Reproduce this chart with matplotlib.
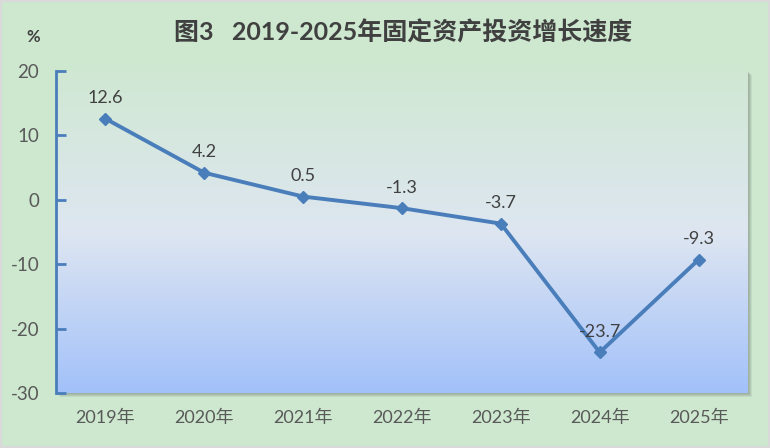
import matplotlib.pyplot as plt
import numpy as np
from matplotlib.colors import LinearSegmentedColormap
from matplotlib.patches import Rectangle

years = ['2019年', '2020年', '2021年', '2022年', '2023年', '2024年', '2025年']
growth = [12.6, 4.2, 0.5, -1.3, -3.7, -23.7, -9.3]
yticks = [-30, -20, -10, 0, 10, 20]

plt.rcParams['font.family'] = ['Lato', 'Noto Sans CJK SC', 'DejaVu Sans']
plt.rcParams['axes.unicode_minus'] = False

fig = plt.figure(figsize=(7.7, 4.48), dpi=100, facecolor='#cde8cf')
ax = fig.add_axes([0.0727, 0.1228, 0.8987, 0.7187])
ax.set_zorder(2)

# soft shadow behind the plot area (a few stacked rectangles)
for k, a in [(1, 0.35), (2, 0.3), (3, 0.25), (4, 0.2)]:
    fig.patches.append(Rectangle((0.0727 + k / 770, 0.1228 - k / 448), 0.8987, 0.7187,
                                 transform=fig.transFigure, facecolor='#8f9f90',
                                 edgecolor='none', alpha=a, zorder=-1))

# thin grey frame round the whole picture
fig.patches.append(Rectangle((0, 0), 1, 1, transform=fig.transFigure, facecolor='none',
                             edgecolor='#d9d9d9', lw=3, zorder=5))

# gradient fill
cmap = LinearSegmentedColormap.from_list('bg', [(0, '#d0e8d3'), (0.5, '#dee6f1'), (1, '#a2c1fa')])
grad = np.linspace(0, 1, 256).reshape(-1, 1)
ax.imshow(grad, cmap=cmap, aspect='auto', extent=(-0.5, 6.5, -30, 20),
          origin='upper', zorder=0)

x = np.arange(len(years))
ax.plot(x, growth, color='#4a7ebb', lw=2.8, marker='D', ms=6, zorder=3)
for xi, v in zip(x, growth):
    ax.annotate(f'{v:.1f}', (xi, v), xytext=(0, 9), textcoords='offset points',
                ha='center', va='bottom', fontsize=13, color='#404040', zorder=4)

ax.set_xlim(-0.5, 6.5)
ax.set_ylim(-30, 20)
ax.set_yticks(yticks)
ax.set_xticks(x)
ax.set_xticklabels(years)
for s in ['top', 'right', 'bottom']:
    ax.spines[s].set_visible(False)
ax.spines['left'].set_color('#4a7ebb')
ax.spines['left'].set_linewidth(2)
ax.tick_params(axis='y', direction='in', length=7, width=2, color='#4a7ebb',
               labelsize=13.5, labelcolor='#595959', pad=12)
ax.tick_params(axis='x', length=0, labelsize=13, labelcolor='#595959', pad=12)

fig.text(0.043, 0.918, '%', ha='center', va='center', fontsize=12, color='#404040', fontweight='bold')
fig.text(0.523, 0.928, '图3   2019-2025年固定资产投资增长速度', ha='center', va='center',
         fontsize=18, fontweight='bold', color='#404040')

fig.savefig('out.png', facecolor=fig.get_facecolor())
